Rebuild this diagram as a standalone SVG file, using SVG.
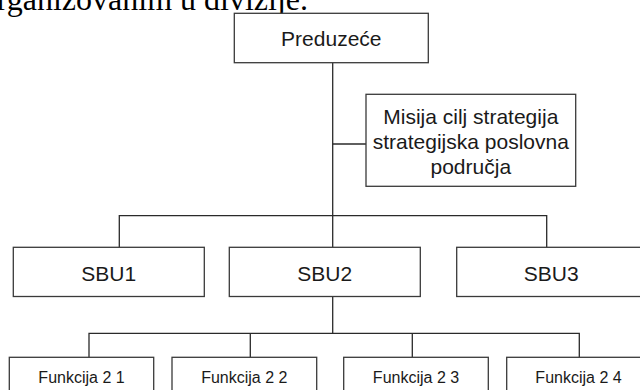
<svg xmlns="http://www.w3.org/2000/svg" width="640" height="390" viewBox="0 0 640 390">
<style>
.box{fill:#fff;stroke:#3a3a3a;stroke-width:1.3}
.ln{fill:none;stroke:#2a2a2a;stroke-width:1.3}
.t{font-family:"Liberation Sans",Arial,sans-serif;font-size:21px;fill:#1a1a1a;text-anchor:middle}
.f{font-family:"Liberation Sans",Arial,sans-serif;font-size:16px;fill:#1a1a1a;text-anchor:middle}
.body{font-family:"Liberation Serif","Times New Roman",serif;font-size:32px;fill:#000;text-anchor:end}
</style>
<rect width="640" height="390" fill="#fff"/>
<text class="body" x="308" y="10">organizovanim u divizije.</text>
<g id="connectors">
<path class="ln" d="M332.7,62.7 V247.3"/>
<path class="ln" d="M332.7,144 H366"/>
<path class="ln" d="M119.3,247.3 V215.7 H546.7 V247.3"/>
<path class="ln" d="M332.7,296.5 V333.3"/>
<path class="ln" d="M89,357.3 V333.3 H579.3 V357.3"/>
<path class="ln" d="M250.3,333.3 V357.3"/>
<path class="ln" d="M412.3,333.3 V357.3"/>
</g>
<g id="preduzece">
<rect class="box" x="234.3" y="13.3" width="194" height="49.4"/>
<text class="t" x="331.3" y="45.7">Preduzeće</text>
</g>
<g id="misija">
<rect class="box" x="366" y="94.3" width="209.7" height="92"/>
<text class="t" x="470.8" y="123.5">Misija cilj strategija</text>
<text class="t" x="470.8" y="148.5">strategijska poslovna</text>
<text class="t" x="470.8" y="173.5">područja</text>
</g>
<g id="sbu1">
<rect class="box" x="13.3" y="247.3" width="191" height="49.2"/>
<text class="t" x="108.8" y="281">SBU1</text>
</g>
<g id="sbu2">
<rect class="box" x="229.3" y="247.3" width="191" height="49.2"/>
<text class="t" x="324.8" y="281">SBU2</text>
</g>
<g id="sbu3">
<rect class="box" x="456.7" y="247.3" width="189" height="49.2"/>
<text class="t" x="551.2" y="281">SBU3</text>
</g>
<g id="f21">
<rect class="box" x="9.3" y="357.3" width="144.4" height="50"/>
<text class="f" x="81.5" y="383.3">Funkcija 2 1</text>
</g>
<g id="f22">
<rect class="box" x="172" y="357.3" width="144.7" height="50"/>
<text class="f" x="244.3" y="383.3">Funkcija 2 2</text>
</g>
<g id="f23">
<rect class="box" x="343.7" y="357.3" width="144.6" height="50"/>
<text class="f" x="416" y="383.3">Funkcija 2 3</text>
</g>
<g id="f24">
<rect class="box" x="506.7" y="357.3" width="145" height="50"/>
<text class="f" x="578.5" y="383.3">Funkcija 2 4</text>
</g>
</svg>
